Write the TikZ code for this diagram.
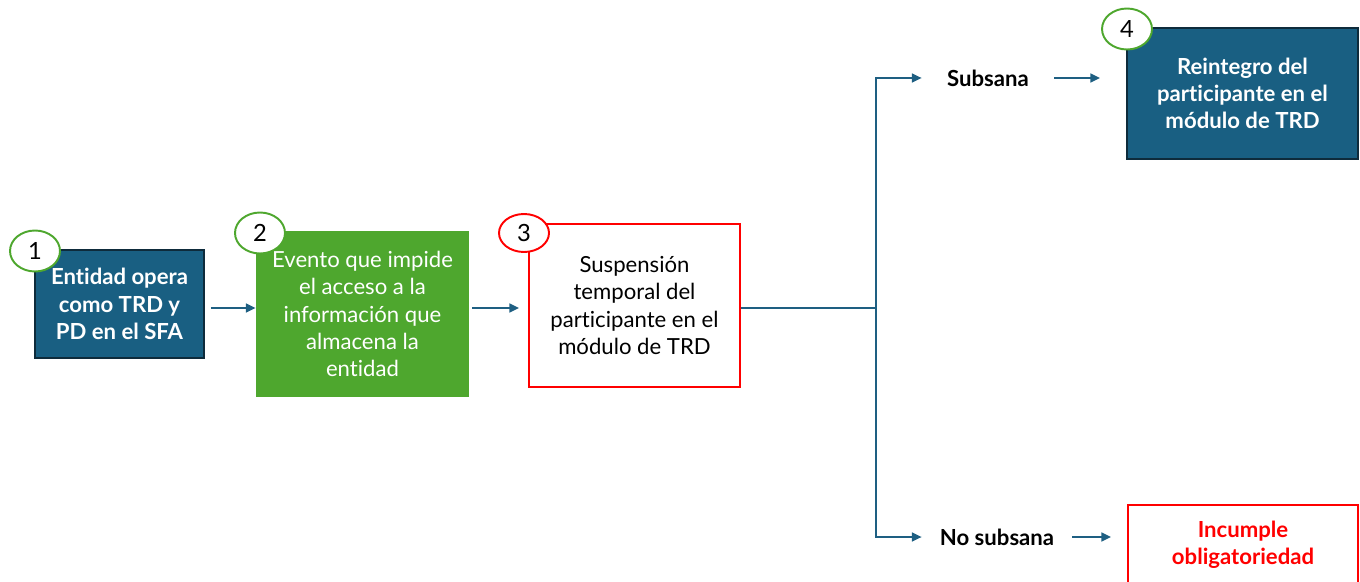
\documentclass[tikz,border=0pt]{standalone}
\usepackage{fontspec}
\setmainfont{Lato}[Ligatures={NoCommon}]
\usepackage{xcolor}
\usetikzlibrary{shapes.geometric,arrows.meta,calc}

\definecolor{boxblue}{HTML}{195F82}
\definecolor{boxedge}{HTML}{0E2B3B}
\definecolor{boxgreen}{HTML}{4EA72E}
\definecolor{flowblue}{HTML}{1E5F82}
\definecolor{alertred}{HTML}{FF0000}

\begin{document}
\begin{tikzpicture}[
  font=\fontsize{12.6}{15.5}\selectfont,
  bluebox/.style={draw=boxedge, line width=1.1pt, fill=boxblue, text=white, font=\fontsize{12.6}{15.5}\selectfont\bfseries, align=center, inner sep=0pt},
  greenbox/.style={draw=none, fill=boxgreen, text=white, align=center, inner sep=0pt},
  redbox/.style={draw=alertred, line width=1.1pt, fill=white, align=center, inner sep=0pt},
  badge/.style={ellipse, draw=#1, line width=1.1pt, fill=white, inner sep=0pt, minimum width=1.0cm, minimum height=0.82cm, font=\fontsize{13.5}{14}\selectfont},
  flow/.style={draw=flowblue, line width=1.1pt, -{Triangle[length=5.5pt,width=5pt]}},
  branch/.style={font=\fontsize{12.6}{14}\selectfont\bfseries, inner sep=0pt}
]
  % Fix the canvas
  \useasboundingbox (0,0) rectangle (27.2,-11.64);

  % Boxes
  \node[bluebox, minimum width=3.38cm, minimum height=2.16cm] (entidad) at (2.39,-6.08)
    {Entidad opera\\como TRD y\\PD en el SFA};
  \node[greenbox, minimum width=4.26cm, minimum height=3.32cm] (evento) at (7.25,-6.28)
    {Evento que impide\\el acceso a la\\información que\\almacena la\\entidad};
  \node[redbox, minimum width=4.22cm, minimum height=3.26cm] (suspension) at (12.69,-6.11)
    {Suspensión\\temporal del\\participante en el\\módulo de TRD};
  \node[bluebox, minimum width=4.62cm, minimum height=2.62cm] (reintegro) at (24.85,-1.87)
    {Reintegro del\\participante en el\\módulo de TRD};
  \node[redbox, text=alertred, font=\fontsize{12.6}{15.5}\selectfont\bfseries, minimum width=4.6cm, minimum height=1.6cm] (incumple) at (24.86,-10.9)
    {Incumple\\obligatoriedad};

  % Numbered badges
  \node[badge=boxgreen] (n1) at (0.70,-5.02) {1};
  \node[badge=boxgreen] (n2) at (5.20,-4.66) {2};
  \node[badge=alertred, minimum height=0.76cm] (n3) at (10.48,-4.66) {3};
  \node[badge=boxgreen] (n4) at (22.54,-0.58) {4};

  % Branch labels
  \node[branch, minimum width=2.64cm] (subsana) at (19.76,-1.56) {Subsana};
  \node[branch, minimum width=3.0cm] (nosubsana) at (19.94,-10.74) {No subsana};
  \coordinate (split) at (17.52,-6.16);

  % Connectors
  \draw[flow, shorten <=0.12cm] (entidad.east |- 0,-6.16) -- (evento.west |- 0,-6.16);
  \draw[flow, shorten <=0.06cm, shorten >=0.18cm] (evento.east |- 0,-6.16) -- (suspension.west |- 0,-6.16);
  \draw[draw=flowblue, line width=1.1pt] (suspension.east |- split) -- (split);
  \draw[flow] (split) |- (subsana.west);
  \draw[flow] (split) |- (nosubsana.west);
  \draw[flow, shorten >=0.52cm] (subsana.east) -- (subsana.east -| reintegro.west);
  \draw[flow, shorten >=0.32cm] (nosubsana.east) -- (nosubsana.east -| incumple.west);
\end{tikzpicture}
\end{document}
